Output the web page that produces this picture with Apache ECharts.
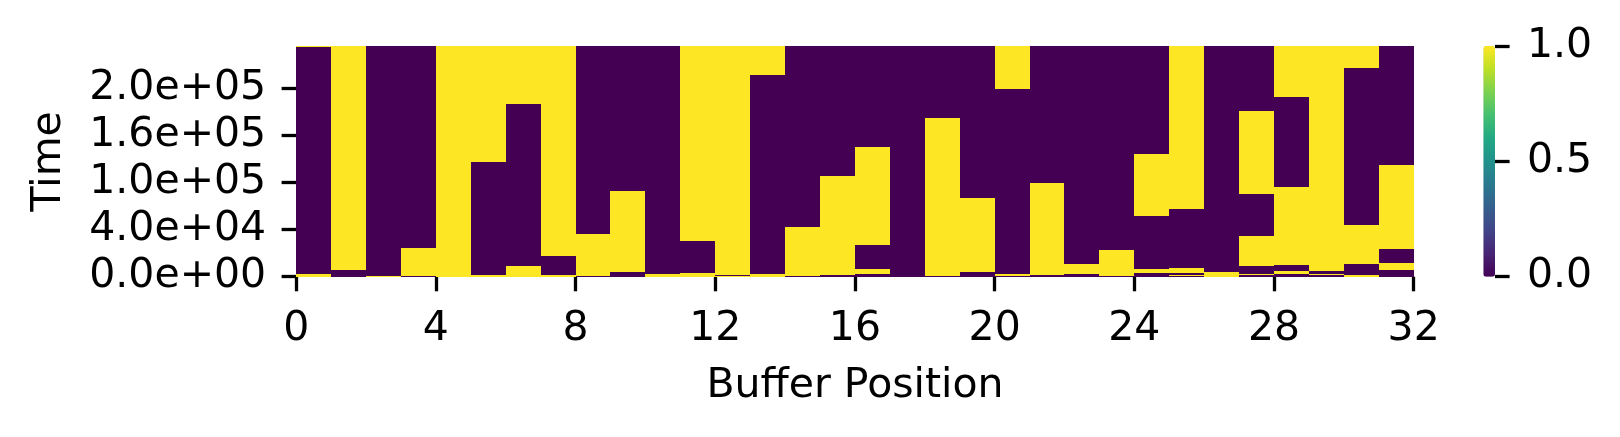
<!DOCTYPE html>
<html>
<head>
<meta charset="utf-8">
<script src="https://cdn.jsdelivr.net/npm/echarts@6/dist/echarts.min.js"></script>
<style>
html,body{margin:0;padding:0;background:#fff;}
#chart{width:1620px;height:437px;}
</style>
</head>
<body>
<div id="chart"></div>
<script>
// Buffer positions (columns)
var bufferPositions = [0,1,2,3,4,5,6,7,8,9,10,11,12,13,14,15,16,17,18,19,20,21,22,23,24,25,26,27,28,29,30,31];
// State (0/1) at time row 0 for each buffer position
var initialState = [1,0,1,0,1,1,1,1,0,0,1,1,1,1,0,0,0,0,0,0,0,0,0,0,0,0,1,0,0,0,1,0];
// Time rows (bottom = 0) at which each buffer position's state flips
var flipRows = [
  [2.8, 244.3],
  [7.1],
  [1.1],
  [1.1, 30.9],
  [],
  [2.1, 122.0],
  [11.5, 183.7],
  [2.1, 22.0],
  [1.1, 45.4],
  [5.0, 91.1],
  [2.8],
  [3.9, 37.9],
  [0.7, 1.8],
  [2.8, 214.5],
  [1.1, 52.8],
  [2.1, 107.1],
  [2.8, 8.2, 33.7, 137.9],
  [],
  [1.1, 168.8],
  [5.0, 83.7],
  [1.1, 2.8, 199.6],
  [2.1, 99.6],
  [2.8, 13.5],
  [1.1, 28.4],
  [3.9, 8.2, 64.5, 130.5],
  [1.1, 2.1, 4.3, 9.2, 72.0],
  [5.0],
  [1.8, 2.8, 11.3, 43.3, 87.9, 176.2],
  [2.8, 6.0, 12.4, 95.4, 191.1],
  [1.8, 2.8, 6.0],
  [1.5, 13.5, 55.0, 222.0],
  [7.1, 14.6, 29.5, 118.8]
];
var totalRows = 245.4;
// Y tick positions (rows) and their labels
var yTickRows = [0, 50, 100, 150, 200];
var yTickLabels = ['0.0e+00', '4.0e+04', '1.0e+05', '1.6e+05', '2.0e+05'];
// Colorbar ticks
var cbarTicks = [0, 0.5, 1];
var viridis = ['#440154','#482475','#414487','#355f8d','#2a788e','#21918c','#22a884','#44bf70','#7ad151','#bddf26','#fde725'];

// Build segments [col, rowStart, rowEnd, value]
var segments = [];
bufferPositions.forEach(function (col, i) {
  var edges = [0].concat(flipRows[i]).concat([totalRows]);
  var v = initialState[i];
  for (var k = 0; k < edges.length - 1; k++) {
    segments.push([col, edges[k], edges[k + 1], v]);
    v = 1 - v;
  }
});

var FONT = 'DejaVu Sans';
var FS = 41;
var chart = echarts.init(document.getElementById('chart'), null, {renderer: 'canvas'});
var L = 296.2, R = 1413.7, T = 46, B = 276.7;
var CBL = 1483.3, CBW = 11.7;
chart.setOption({
  animation: false,
  backgroundColor: '#ffffff',
  textStyle: {fontFamily: FONT},
  grid: [
    {left: L, top: T, width: R - L, height: B - T},
    {left: CBL + CBW, top: T, width: 1, height: B - T}
  ],
  xAxis: [
    {
      type: 'value', gridIndex: 0, min: 0, max: 32, interval: 4,
      name: 'Buffer Position', nameLocation: 'middle', nameGap: 89,
      nameTextStyle: {fontFamily: FONT, fontSize: FS, color: '#000'},
      axisLine: {show: false},
      splitLine: {show: false},
      axisTick: {show: true, inside: false, length: 14.6, lineStyle: {color: '#000', width: 3.3}},
      axisLabel: {fontFamily: FONT, fontSize: FS, color: '#000', margin: 32}
    },
    {type: 'value', gridIndex: 1, min: 0, max: 1, show: false}
  ],
  yAxis: [
    {
      type: 'value', gridIndex: 0, min: 0, max: totalRows,
      name: 'Time', nameLocation: 'middle', nameGap: 226, nameRotate: 90,
      nameTextStyle: {fontFamily: FONT, fontSize: FS, color: '#000'},
      axisLine: {show: false},
      splitLine: {show: false},
      axisTick: {show: true, inside: false, length: 14.6, customValues: yTickRows, lineStyle: {color: '#000', width: 3.3}},
      axisLabel: {
        fontFamily: FONT, fontSize: FS, color: '#000', margin: 30,
        customValues: yTickRows,
        formatter: function (v) {
          var idx = yTickRows.indexOf(v);
          return idx >= 0 ? yTickLabels[idx] : '';
        }
      }
    },
    {
      type: 'value', gridIndex: 1, min: 0, max: 1, position: 'left', z: 10,
      axisLine: {show: false},
      splitLine: {show: false},
      axisTick: {show: true, inside: true, length: 14.6, customValues: cbarTicks, lineStyle: {color: '#000', width: 3.3}},
      axisLabel: {
        inside: true,
        fontFamily: FONT, fontSize: FS, color: '#000', margin: 32,
        customValues: cbarTicks,
        formatter: function (v) { return v.toFixed(1); }
      }
    }
  ],
  visualMap: {
    type: 'continuous', min: 0, max: 1, dimension: 3, seriesIndex: 0,
    orient: 'vertical', left: CBL, top: T, itemWidth: CBW, itemHeight: B - T,
    padding: 0, calculable: false, hoverLink: false, text: null, showLabel: false,
    z: 1,
    inRange: {color: viridis}
  },
  series: [{
    type: 'custom',
    xAxisIndex: 0, yAxisIndex: 0,
    data: segments,
    encode: {x: 0, y: [1, 2]},
    renderItem: function (params, api) {
      var c = api.value(0), r0 = api.value(1), r1 = api.value(2);
      var p0 = api.coord([c, r0]);
      var p1 = api.coord([c + 1, r1]);
      var x0 = Math.round(p0[0]), x1 = Math.round(p1[0]);
      var yb = Math.round(p0[1]), yt = Math.round(p1[1]);
      return {
        type: 'rect',
        shape: {x: x0, y: yt, width: x1 - x0, height: yb - yt},
        style: {fill: api.visual('color')}
      };
    }
  }]
});
</script>
</body>
</html>
